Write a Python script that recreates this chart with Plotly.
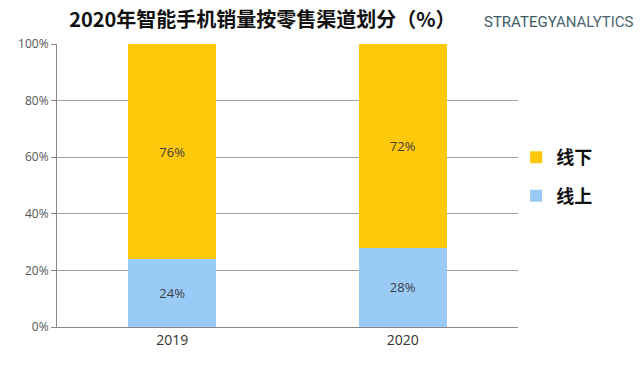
import plotly.graph_objects as go

years = ["2019", "2020"]
online = [24, 28]
offline = [76, 72]
online_labels = ["24%", "28%"]
offline_labels = ["76%", "72%"]
y_ticks = [0, 20, 40, 60, 80, 100]
y_tick_labels = ["0%", "20%", "40%", "60%", "80%", "100%"]

fig = go.Figure()
fig.add_trace(go.Bar(
    x=years, y=online, name="<b>线上</b>", text=online_labels,
    textposition="inside", insidetextanchor="middle",
    marker=dict(color="#9ACBF6", line=dict(width=0)),
    textfont=dict(color="#404040", size=13, family="Open Sans, DejaVu Sans"),
    legendgroup="a", legendrank=2,
))
fig.add_trace(go.Bar(
    x=years, y=offline, name="<b>线下</b>", text=offline_labels,
    textposition="inside", insidetextanchor="middle",
    marker=dict(color="#FFC80A", line=dict(width=0)),
    textfont=dict(color="#404040", size=13, family="Open Sans, DejaVu Sans"),
    legendgroup="b", legendrank=1,
))

fig.update_layout(
    barmode="stack",
    bargap=0.62,
    width=640, height=368,
    margin=dict(l=57, r=122, t=44, b=41, autoexpand=False),
    paper_bgcolor="white", plot_bgcolor="white",
    showlegend=True,
    legend=dict(
        x=0.996, y=0.664, xanchor="left", yanchor="top",
        font=dict(size=18, color="#111111", family="Noto Sans CJK SC"),
        tracegroupgap=12, itemwidth=30,
        bgcolor="rgba(0,0,0,0)",
    ),
    title=dict(
        text="<b>2020年智能手机销量按零售渠道划分（%）</b>",
        x=0.41, xanchor="center", y=0.947, yanchor="middle",
        font=dict(size=20, color="#111111", family="Noto Sans CJK SC"),
    ),
    uniformtext=dict(mode="show", minsize=10),
)
fig.update_xaxes(
    showline=True, linecolor="#888888", linewidth=1,
    ticks="", tickfont=dict(size=14, color="#333333", family="Open Sans, DejaVu Sans"),
    showgrid=False,
)
fig.update_yaxes(
    range=[0, 100], tickvals=y_ticks, ticktext=y_tick_labels,
    showline=True, linecolor="#888888", linewidth=1,
    ticks="outside", ticklen=5, tickcolor="#888888",
    showgrid=True, gridcolor="#a0a0a0", gridwidth=1,
    tickfont=dict(size=12, color="#555555", family="Open Sans, DejaVu Sans"),
    zeroline=False,
)
fig.add_annotation(
    text="STRATEGY<span style='color:#4a6670'>ANALYTICS</span>",
    xref="paper", yref="paper", x=1.256, y=1.078, xanchor="right", yanchor="middle",
    showarrow=False,
    font=dict(size=15, color="#3d5a66", family="Roboto"),
)
fig.write_html("out.html", config={"displayModeBar": False},
               post_script="document.body.style.margin='0';document.body.style.padding='0';")
